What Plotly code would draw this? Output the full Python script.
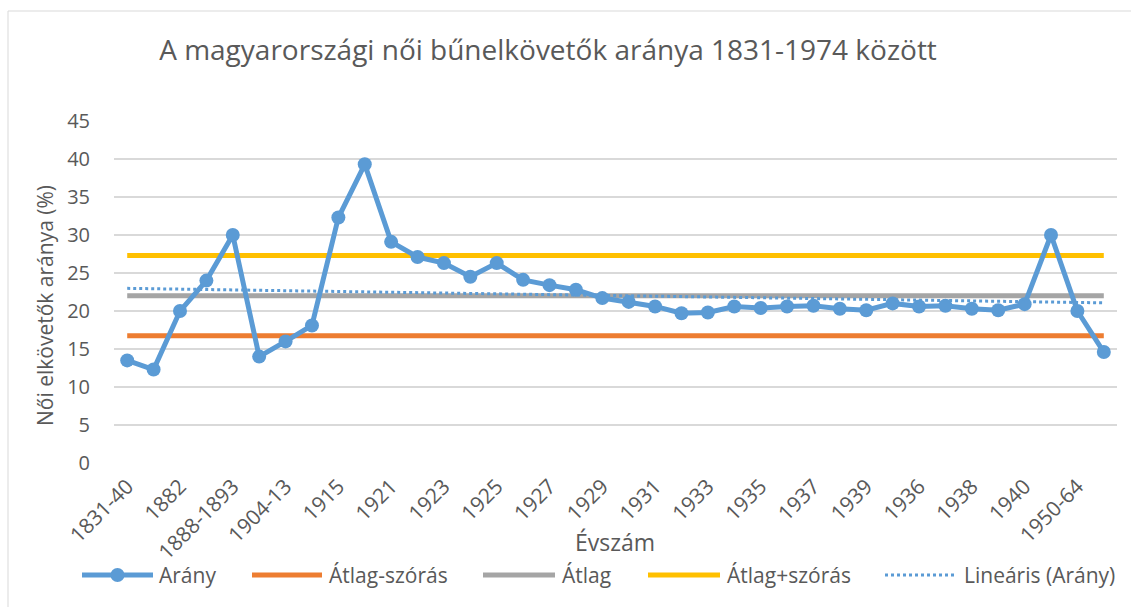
import numpy as np
import plotly.graph_objects as go

# ---------------- data ----------------
categories = [
    "1831-40", "1841-50", "1882", "1883-87", "1888-1893", "1894-1903", "1904-13", "1914",
    "1915", "1916-20", "1921", "1922", "1923", "1924", "1925", "1926", "1927", "1928",
    "1929", "1930", "1931", "1932", "1933", "1934", "1935", "1936", "1937", "1938",
    "1939", "1935", "1936", "1937", "1938", "1939", "1940", "1941", "1950-64", "1965-74",
]
arany = [
    13.5, 12.3, 20.0, 24.0, 30.0, 14.0, 16.0, 18.1,
    32.3, 39.3, 29.1, 27.1, 26.3, 24.5, 26.3, 24.1, 23.4, 22.8,
    21.7, 21.2, 20.6, 19.7, 19.8, 20.6, 20.4, 20.6, 20.7, 20.3,
    20.1, 21.0, 20.6, 20.7, 20.3, 20.1, 20.9, 30.0, 20.0, 14.6,
]
atlag = 22.0
atlag_minus_szoras = 16.75
atlag_plus_szoras = 27.3
y_ticks = [0, 5, 10, 15, 20, 25, 30, 35, 40, 45]

series_names = ["Arány", "Átlag-szórás", "Átlag", "Átlag+szórás", "Lineáris (Arány)"]

# ---------------- styling ----------------
FONT = "Open Sans, Lato, sans-serif"
TXT = "#595959"
BLUE = "#5B9BD5"
ORANGE = "#ED7D31"
GRAY = "#A5A5A5"
YELLOW = "#FFC000"

W, H = 1131, 607
L, R, T, B = 114, 1117, 121, 463  # plot area in pixels


def px_x(p):
    return (p - L) / (R - L)


def px_y(p):
    return (B - p) / (B - T)


n = len(arany)
x = list(range(n))
slope, intercept = np.polyfit(x, arany, 1)
trend = [slope * i + intercept for i in x]

fig = go.Figure()
fig.add_trace(go.Scatter(x=x, y=[atlag_minus_szoras] * n, mode="lines", name=series_names[1],
                         line=dict(color=ORANGE, width=5), showlegend=False))
fig.add_trace(go.Scatter(x=x, y=[atlag] * n, mode="lines", name=series_names[2],
                         line=dict(color=GRAY, width=5), showlegend=False))
fig.add_trace(go.Scatter(x=x, y=[atlag_plus_szoras] * n, mode="lines", name=series_names[3],
                         line=dict(color=YELLOW, width=5), showlegend=False))
fig.add_trace(go.Scatter(x=x, y=arany, mode="lines+markers", name=series_names[0],
                         line=dict(color=BLUE, width=5),
                         marker=dict(color=BLUE, size=14), showlegend=False))
fig.add_trace(go.Scatter(x=x, y=trend, mode="lines", name=series_names[4],
                         line=dict(color=BLUE, width=3, dash="dot"), showlegend=False))

tickvals = x[::2]
ticktext = categories[::2]

fig.update_layout(
    width=W, height=H,
    margin=dict(l=L, r=W - R, t=T, b=H - B, autoexpand=False),
    paper_bgcolor="white", plot_bgcolor="white",
    font=dict(family=FONT, color=TXT, size=19),
    showlegend=False,
    title=dict(text="A magyarországi női bűnelkövetők aránya 1831-1974 között",
               x=548 / W, xanchor="center", xref="container",
               y=1 - 50 / H, yanchor="middle",
               font=dict(family=FONT, size=28, color=TXT)),
    xaxis=dict(range=[-0.5, n - 0.5], tickmode="array", tickvals=tickvals, ticktext=ticktext,
               tickangle=-45, showgrid=False, zeroline=False, showline=False, ticks="",
               tickfont=dict(size=21, color=TXT), ticklabelstandoff=6, automargin=False),
    yaxis=dict(range=[0, 45], tickmode="array", tickvals=y_ticks,
               showgrid=True, gridcolor="#D9D9D9", gridwidth=1.5, zeroline=False,
               showline=False, ticks="", tickfont=dict(size=20, color=TXT),
               ticklabelstandoff=23, automargin=False),
)

# Axis titles
fig.add_annotation(text="Női elkövetők aránya (%)", x=px_x(45), y=px_y(306), xref="paper", yref="paper",
                   textangle=-90, showarrow=False, font=dict(size=21, color=TXT),
                   xanchor="center", yanchor="middle")
fig.add_annotation(text="Évszám", x=px_x(615), y=px_y(542), xref="paper", yref="paper",
                   showarrow=False, font=dict(size=23, color=TXT), xanchor="center", yanchor="middle")

# Chart border (outer frame)
fig.add_shape(type="rect", xref="paper", yref="paper",
              x0=px_x(8), x1=px_x(1160), y0=px_y(11), y1=px_y(640),
              line=dict(color="#D9D9D9", width=1), fillcolor="rgba(0,0,0,0)", layer="below")

# Manual legend
leg_y = px_y(575)
legend_items = [
    (series_names[0], BLUE, "solid", 5, True, 82, 153, 157),
    (series_names[1], ORANGE, "solid", 5, False, 252, 322, 327),
    (series_names[2], GRAY, "solid", 5, False, 483, 555, 560),
    (series_names[3], YELLOW, "solid", 5, False, 648, 720, 725),
    (series_names[4], BLUE, "dot", 3, False, 885, 955, 962),
]
for name, col, dash, w, marker, s0, s1, tx in legend_items:
    fig.add_shape(type="line", xref="paper", yref="paper", x0=px_x(s0), x1=px_x(s1),
                  y0=leg_y, y1=leg_y, line=dict(color=col, width=w, dash=dash))
    if marker:
        cx = (s0 + s1) / 2
        r = 7
        fig.add_shape(type="circle", xref="paper", yref="paper",
                      x0=px_x(cx - r), x1=px_x(cx + r), y0=px_y(575 + r), y1=px_y(575 - r),
                      fillcolor=col, line=dict(color=col, width=0))
    fig.add_annotation(text=name, x=px_x(tx), y=leg_y, xref="paper", yref="paper",
                       showarrow=False, xanchor="left", yanchor="middle",
                       font=dict(size=21, color=TXT))

fig.write_html("out.html",
               config={"displayModeBar": False},
               post_script="document.body.style.margin='0';document.body.style.overflow='hidden';")
